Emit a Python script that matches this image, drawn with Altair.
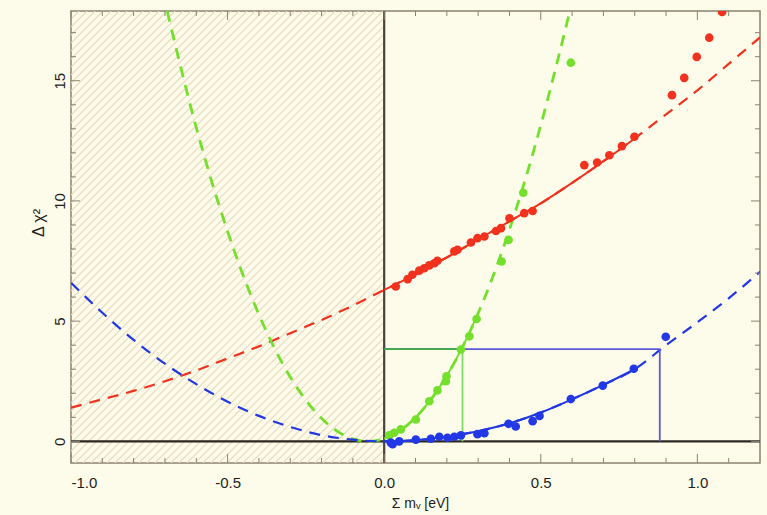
import altair as alt
import numpy as np
import pandas as pd

# ---------------- data ----------------
# red series
red_pts_x = [0.037, 0.075, 0.09, 0.112, 0.128, 0.144, 0.16, 0.17, 0.224, 0.234, 0.277, 0.298,
             0.32, 0.357, 0.373, 0.40, 0.447, 0.474, 0.639, 0.68, 0.719, 0.759, 0.799,
             0.919, 0.958, 0.998, 1.038, 1.079]
red_pts_y = [6.44, 6.75, 6.93, 7.10, 7.20, 7.32, 7.41, 7.51, 7.90, 7.97, 8.27, 8.45,
             8.52, 8.75, 8.87, 9.28, 9.49, 9.58, 11.49, 11.60, 11.90, 12.28, 12.67,
             14.40, 15.12, 15.99, 16.79, 17.86]
red_curve_x = [-1.0, -0.9, -0.8, -0.7, -0.6, -0.5, -0.4, -0.3, -0.2, -0.1, 0.0, 0.1, 0.2,
               0.3, 0.4, 0.5, 0.6, 0.7, 0.8, 0.9, 1.0, 1.1, 1.2]
red_curve_y = [1.4, 1.75, 2.1, 2.5, 2.95, 3.45, 3.95, 4.5, 5.05, 5.65, 6.3, 6.95, 7.65,
               8.4, 9.15, 9.9, 10.75, 11.65, 12.6, 13.6, 14.6, 15.7, 16.8]
red_fit_range = [0.0, 0.8]

# green series
green_pts_x = [0.016, 0.032, 0.053, 0.101, 0.144, 0.17, 0.197, 0.199, 0.245, 0.272, 0.295,
               0.375, 0.397, 0.444, 0.596]
green_pts_y = [0.25, 0.36, 0.50, 0.91, 1.67, 2.12, 2.50, 2.71, 3.82, 4.37, 5.09,
               7.48, 8.38, 10.34, 15.75]
green_curve_x = [-0.693, -0.6, -0.5, -0.4, -0.3, -0.2, -0.1, -0.05, 0.0, 0.05, 0.1, 0.15,
                 0.2, 0.25, 0.3, 0.35, 0.4, 0.45, 0.5, 0.55, 0.591]
green_curve_y = [17.9, 13.05, 8.73, 5.27, 2.68, 0.96, 0.10, 0.0, 0.11, 0.44, 0.99, 1.76,
                 2.73, 3.92, 5.33, 6.95, 8.81, 10.87, 13.15, 15.65, 17.8]
green_fit_range = [0.0, 0.3]

# blue series
blue_pts_x = [0.021, 0.027, 0.048, 0.101, 0.149, 0.176, 0.202, 0.224, 0.245, 0.298, 0.32,
              0.397, 0.42, 0.474, 0.496, 0.596, 0.698, 0.797, 0.899]
blue_pts_y = [-0.05, -0.12, 0.0, 0.07, 0.11, 0.19, 0.15, 0.19, 0.25, 0.30, 0.34,
              0.73, 0.62, 0.84, 1.06, 1.76, 2.32, 3.02, 4.35]
blue_curve_x = [-1.0, -0.9, -0.8, -0.7, -0.6, -0.5, -0.4, -0.3, -0.2, -0.1, 0.0, 0.1, 0.2,
                0.3, 0.4, 0.5, 0.6, 0.7, 0.8, 0.9, 1.0, 1.1, 1.2]
blue_curve_y = [6.6, 5.35, 4.22, 3.23, 2.38, 1.65, 1.06, 0.6, 0.26, 0.07, 0.0, 0.05, 0.2,
                0.42, 0.75, 1.2, 1.75, 2.35, 3.0, 4.0, 4.95, 5.95, 7.05]
blue_fit_range = [0.0, 0.8]

# 95% CL (delta chi2 = 3.84) limits
cl_level = 3.84
green_limit = 0.25
blue_limit = 0.88

# axes
x_domain = [-1.0, 1.2]
y_domain = [-0.9, 17.9]
x_labels = [-1.0, -0.5, 0.0, 0.5, 1.0]
y_labels = [0, 5, 10, 15]
x_minor = [-0.9, -0.8, -0.7, -0.6, -0.4, -0.3, -0.2, -0.1, 0.1, 0.2, 0.3, 0.4,
           0.6, 0.7, 0.8, 0.9, 1.1]
y_minor = [1, 2, 3, 4, 6, 7, 8, 9, 11, 12, 13, 14, 16, 17]

# ---------------- styling ----------------
W, H = 689, 452
BG = "#fdfbea"
RED, GREEN, BLUE = "#f0321f", "#74e02c", "#2238e4"
FONT = "Liberation Sans"
TXT = "#1e1e1e"

xs = alt.Scale(domain=x_domain, nice=False, zero=False)
ys = alt.Scale(domain=y_domain, nice=False, zero=False)
x_axis = alt.Axis(values=x_labels, format=".1f", tickSize=0, domain=False, grid=False,
                  labelFontSize=15, labelPadding=12, labelColor=TXT, title=None,
                  labelFont=FONT, labelExpr="replace(datum.label, '\u2212', '-')")
y_axis = alt.Axis(values=y_labels, format="d", tickSize=0, domain=False, grid=False,
                  labelFontSize=15, labelPadding=4, labelAngle=270, labelAlign="center",
                  labelBaseline="bottom", labelColor=TXT, title=None, labelFont=FONT)


def X(f):
    return alt.X(f, type="quantitative", scale=xs, axis=x_axis)


def Y(f):
    return alt.Y(f, type="quantitative", scale=ys, axis=y_axis)


# hatch lines for the unphysical region x < 0 (45 degrees on screen)
ppx = W / (x_domain[1] - x_domain[0])
ppy = H / (y_domain[1] - y_domain[0])
k = ppx / ppy
span = (y_domain[1] - y_domain[0]) / k
rows = []
for s in np.arange(x_domain[0] - span, 0.0, 8.0 / ppx):
    xa, ya = s, y_domain[0]
    xb, yb = s + span, y_domain[1]
    if xa < x_domain[0]:
        ya = y_domain[0] + (x_domain[0] - s) * k
        xa = x_domain[0]
    if xb > 0.0:
        yb = y_domain[0] + (0.0 - s) * k
        xb = 0.0
    if xb > xa:
        rows.append({"x": xa, "y": ya, "x2": xb, "y2": yb})
hatch_df = pd.DataFrame(rows)

hatch = alt.Chart(hatch_df).mark_rule(color="#e8d8bb", strokeWidth=1.1, clip=True).encode(
    x=X("x"), y=Y("y"), x2="x2", y2="y2")

zero_h = alt.Chart(pd.DataFrame({"y": [0.0]})).mark_rule(color="#2b2620", strokeWidth=2.2).encode(
    y=Y("y"))
zero_v = alt.Chart(pd.DataFrame({"x": [0.0]})).mark_rule(color="#4a433b", strokeWidth=2.2).encode(
    x=X("x"))


def curve(xv, yv, color, dash, width, rng=None):
    df = pd.DataFrame({"x": xv, "y": yv})
    if rng is not None:
        df = df[(df.x >= rng[0] - 1e-9) & (df.x <= rng[1] + 1e-9)]
    kw = dict(color=color, strokeWidth=width, clip=True, interpolate="monotone")
    if dash:
        kw["strokeDash"] = dash
    return alt.Chart(df).mark_line(**kw).encode(x=X("x"), y=Y("y"), order="x:Q")


def points(xv, yv, color):
    df = pd.DataFrame({"x": xv, "y": yv})
    return alt.Chart(df).mark_circle(color=color, size=75, opacity=1, clip=True).encode(
        x=X("x"), y=Y("y"))


red_d = curve(red_curve_x, red_curve_y, RED, [11, 8], 2.2)
green_d = curve(green_curve_x, green_curve_y, GREEN, [11, 8], 2.8)
blue_d = curve(blue_curve_x, blue_curve_y, BLUE, [11, 8], 2.2)
red_s = curve(red_curve_x, red_curve_y, RED, None, 2.0, red_fit_range)
green_s = curve(green_curve_x, green_curve_y, GREEN, None, 2.0, green_fit_range)
blue_s = curve(blue_curve_x, blue_curve_y, BLUE, None, 2.0, blue_fit_range)

blue_h = alt.Chart(pd.DataFrame({"x": [0.0], "x2": [blue_limit], "y": [cl_level]})).mark_rule(
    color="#5b5bdc", strokeWidth=1.8).encode(x=X("x"), x2="x2", y=Y("y"))
blue_v = alt.Chart(pd.DataFrame({"x": [blue_limit], "y": [0.0], "y2": [cl_level]})).mark_rule(
    color="#5b5bdc", strokeWidth=1.8).encode(x=X("x"), y=Y("y"), y2="y2")
green_h = alt.Chart(pd.DataFrame({"x": [0.0], "x2": [green_limit], "y": [cl_level]})).mark_rule(
    color="#3fae3f", strokeWidth=1.8).encode(x=X("x"), x2="x2", y=Y("y"))
green_v = alt.Chart(pd.DataFrame({"x": [green_limit], "y": [0.0], "y2": [cl_level]})).mark_rule(
    color="#7fdc6a", strokeWidth=1.8).encode(x=X("x"), y=Y("y"), y2="y2")

red_p = points(red_pts_x, red_pts_y, RED)
green_p = points(green_pts_x, green_pts_y, GREEN)
blue_p = points(blue_pts_x, blue_pts_y, BLUE)

TICK = "#8c8272"


def xticks(vals, length):
    df = pd.DataFrame({"t": vals})
    b = alt.Chart(df).mark_rule(color=TICK, strokeWidth=1).encode(
        x=X("t"), y=alt.value(H), y2=alt.value(H - length))
    t = alt.Chart(df).mark_rule(color=TICK, strokeWidth=1).encode(
        x=X("t"), y=alt.value(0), y2=alt.value(length))
    return b + t


def yticks(vals, length):
    df = pd.DataFrame({"t": vals})
    l = alt.Chart(df).mark_rule(color=TICK, strokeWidth=1).encode(
        y=Y("t"), x=alt.value(0), x2=alt.value(length))
    r = alt.Chart(df).mark_rule(color=TICK, strokeWidth=1).encode(
        y=Y("t"), x=alt.value(W), x2=alt.value(W - length))
    return l + r


one = pd.DataFrame({"a": [0]})
x_title = alt.Chart(one).mark_text(text="Σ mᵥ [eV]", font=FONT, fontSize=14, color=TXT,
                                   align="center", baseline="middle").encode(
    x=alt.value(W / 2 + 5), y=alt.value(H + 41))
y_title = alt.Chart(one).mark_text(text="Δ χ²", font=FONT, fontSize=16, color=TXT,
                                   align="center", baseline="middle", angle=270).encode(
    x=alt.value(-32), y=alt.value(212))

chart = alt.layer(
    hatch, zero_h, zero_v,
    red_d, green_d, blue_d,
    blue_h, blue_v, green_h, green_v,
    red_s, green_s, blue_s,
    red_p, green_p, blue_p,
    xticks(x_minor, 5), xticks(x_labels, 9), yticks(y_minor, 5), yticks(y_labels, 9),
    x_title, y_title,
).properties(
    width=W, height=H, background=BG,
    padding={"left": 71, "top": 11, "right": 7, "bottom": 52},
    autosize=alt.AutoSizeParams(type="none"),
).configure_view(stroke="#8c8272", strokeWidth=1.5, fill=BG)

chart.save("out.html", embed_options={"renderer": "svg", "actions": False})
